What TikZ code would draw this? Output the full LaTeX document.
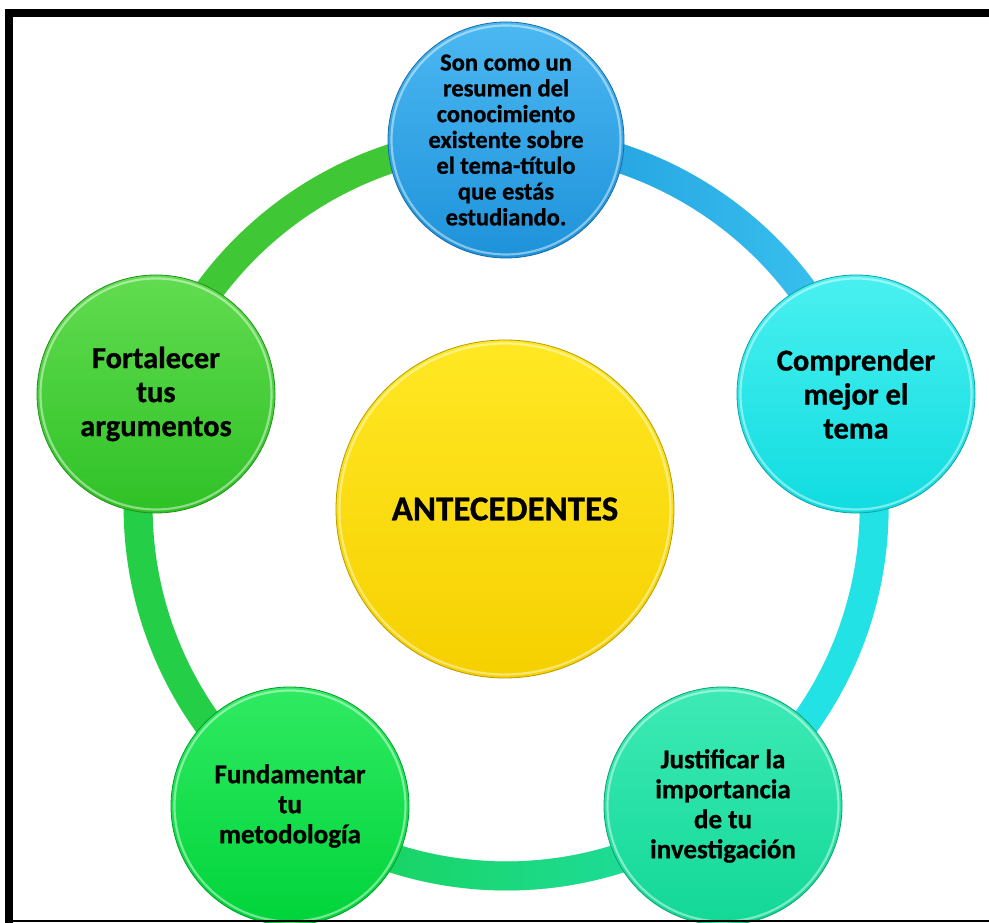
\documentclass[tikz,border=0pt]{standalone}
\usepackage{fontspec}
\setmainfont{Carlito}[BoldFeatures={FakeBold=0.8}]
\usetikzlibrary{backgrounds,fadings}

% colour palette
\definecolor{blueTop}{HTML}{4CB8F2}
\definecolor{blueBot}{HTML}{1E92DA}
\definecolor{cyanTop}{HTML}{4AF0F0}
\definecolor{cyanBot}{HTML}{10DCE0}
\definecolor{tealTop}{HTML}{3EEAB6}
\definecolor{tealBot}{HTML}{12D896}
\definecolor{grnATop}{HTML}{30EA62}
\definecolor{grnABot}{HTML}{00D43A}
\definecolor{grnBTop}{HTML}{62DC50}
\definecolor{grnBBot}{HTML}{2FC126}
\definecolor{yelTop}{HTML}{FFE824}
\definecolor{yelBot}{HTML}{F6D000}
\definecolor{ringBlue}{HTML}{1F98DE}
\definecolor{ringSky}{HTML}{3CC6F0}
\definecolor{ringCyan}{HTML}{22E2E6}
\definecolor{ringTeal}{HTML}{1FDFAE}
\definecolor{ringGreen}{HTML}{18D24E}
\definecolor{ringLeaf}{HTML}{3FC736}

\tikzfading[name=fadeout right, left color=transparent!0, right color=transparent!100]
\tikzfading[name=fadeout left, left color=transparent!100, right color=transparent!0]

\pgfdeclarelayer{paper}
\pgfsetlayers{paper,background,main}

\tikzset{
  bubble/.style n args={3}{circle, minimum size=#1, inner sep=0pt, align=center,
    text=black, top color=#2, bottom color=#3, draw=#3!75!black, line width=0.8pt,
    path picture={\draw[white, opacity=0.45, line width=2.2pt]
      (path picture bounding box.center) circle ({#1/2-3.5pt});}},
  ringband/.style={line width=29pt, draw=#1, line cap=butt},
  small/.style={font=\bfseries\fontsize{24.5}{25.8}\selectfont},
  mid/.style={font=\bfseries\fontsize{27}{30}\selectfont},
  big/.style={font=\bfseries\fontsize{30.5}{34}\selectfont},
  arcpath/.style={bend left=36, looseness=0.94},
}

\begin{document}
\begin{tikzpicture}[x=1pt,y=1pt]
  \useasboundingbox (0,0) rectangle (989,923);
  \begin{pgfonlayer}{paper}
    \fill[white] (0,0) rectangle (989,923);
  \end{pgfonlayer}

  % outer nodes on a circle of radius 368 around (506,415)
  \node[bubble={236pt}{blueTop}{blueBot}, small] (top) at (506,783)
    {Son como un\\resumen del\\conocimiento\\existente sobre\\el tema-título\\que estás\\estudiando.};
  \node[bubble={238pt}{cyanTop}{cyanBot}, big] (right) at (856,529)
    {Comprender\\mejor el\\tema};
  \node[bubble={238pt}{tealTop}{tealBot}, mid] (botright) at (723,117)
    {Justificar la\\importancia\\de tu\\investigación};
  \node[bubble={238pt}{grnATop}{grnABot}, mid] (botleft) at (290,117)
    {Fundamentar\\tu\\metodología};
  \node[bubble={238pt}{grnBTop}{grnBBot}, big] (left) at (156,529)
    {Fortalecer\\tus\\argumentos};

  % central topic
  \node[bubble={338pt}{yelTop}{yelBot}, font=\bfseries\fontsize{35}{40}\selectfont]
    (core) at (505,414) {ANTECEDENTES};

  % ring joining the outer nodes
  \begin{scope}[on background layer]
    \draw[ringband=ringSky] (top.center) to[arcpath] (right.center);
    \draw[ringband=ringBlue, path fading=fadeout right] (top.center) to[arcpath] (right.center);
    \draw[ringband=ringCyan] (right.center) to[arcpath] (botright.center);
    \draw[ringband=ringGreen] (botright.center) to[arcpath] (botleft.center);
    \draw[ringband=ringTeal, path fading=fadeout left] (botright.center) to[arcpath] (botleft.center);
    \draw[ringband=ringGreen!70!ringLeaf] (botleft.center) to[arcpath] (left.center);
    \draw[ringband=ringLeaf] (left.center) to[arcpath] (top.center);
  \end{scope}

  % frame
  \fill[black] (5,906) rectangle (989,914);
  \fill[black] (5,0) rectangle (13,914);
  \fill[black] (5,1) rectangle (989,2.6);
\end{tikzpicture}
\end{document}
